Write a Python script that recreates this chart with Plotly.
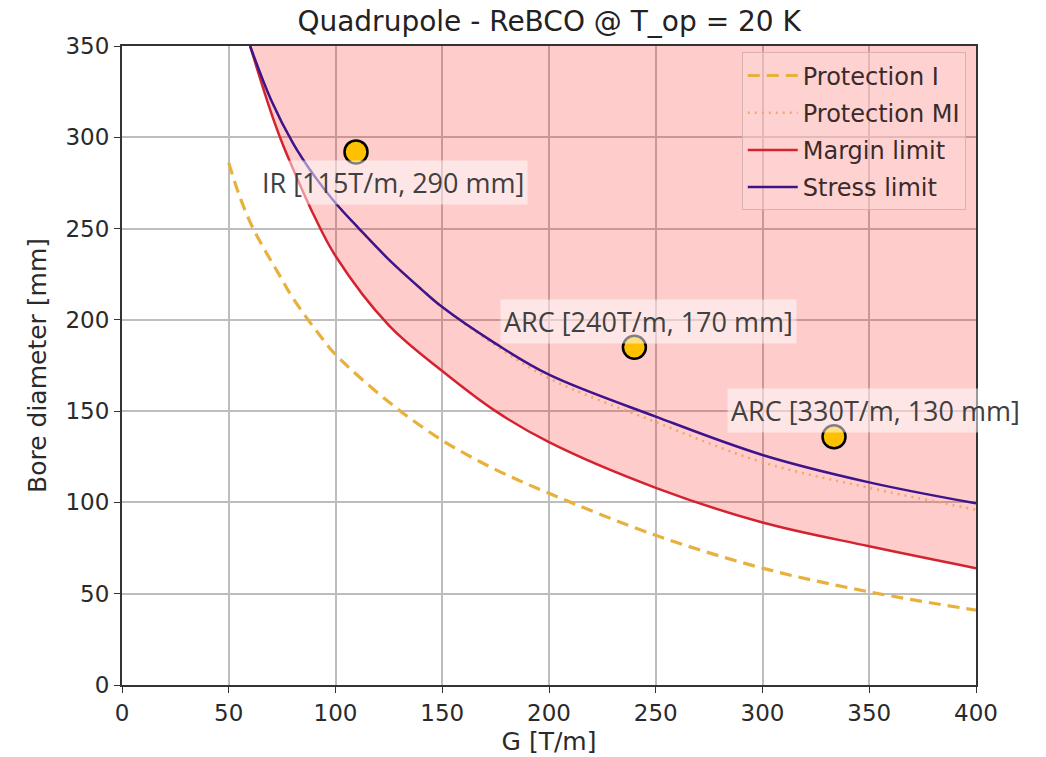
import plotly.graph_objects as go

# ---- data ----
g_prot_i = [50, 55, 61, 67, 73, 80, 93, 100, 125, 150, 175, 200, 250, 300, 350, 400]
d_prot_i = [286, 268, 251, 238, 226, 212, 191, 181, 155, 134, 118, 105, 82, 64, 51, 41]

g_prot_mi = [60, 70, 80, 90, 100, 111, 125, 140, 150, 175, 200, 250, 300, 350, 400]
d_prot_mi = [350, 320, 297, 279, 264, 250, 233, 217, 207, 186, 168, 144, 122, 108, 96]

g_margin = [60, 65, 70, 75, 80, 90, 100, 125, 150, 175, 200, 250, 300, 350, 400]
d_margin = [350, 331, 313, 297, 283, 257, 235, 197, 172, 150, 133, 108, 89, 76, 64]

g_stress = [60, 70, 80, 90, 100, 111, 125, 140, 150, 175, 200, 250, 300, 350, 400]
d_stress = [350, 320, 297, 279, 264, 250, 233, 217, 207, 187, 170, 147, 126, 111, 99.5]

pt_g = [109.6, 240, 333.5]
pt_d = [292, 185, 136]
pt_labels = ["IR [115T/m, 290 mm]", "ARC [240T/m, 170 mm]", "ARC [330T/m, 130 mm]"]
lbl_g = [127, 246.4, 353]
lbl_d = [275, 199, 150.6]

y_top = 350

fig = go.Figure()

# fill region above the margin limit
fig.add_trace(go.Scatter(x=g_margin, y=[y_top] * len(g_margin), mode="lines",
                         line=dict(width=0, color="rgba(0,0,0,0)"),
                         showlegend=False, hoverinfo="skip"))
fig.add_trace(go.Scatter(x=g_margin, y=d_margin, mode="lines", fill="tonexty",
                         fillcolor="rgba(255,0,0,0.2)", line=dict(width=0, shape="spline"),
                         showlegend=False, hoverinfo="skip"))

fig.add_trace(go.Scatter(x=g_prot_i, y=d_prot_i, mode="lines", name="Protection I",
                         legendgroup="a",
                         line=dict(color="#e8b03c", width=3.2, dash="12px,7px", shape="spline")))
fig.add_trace(go.Scatter(x=g_prot_mi, y=d_prot_mi, mode="lines", name="Protection MI",
                         legendgroup="b",
                         line=dict(color="#f0a868", width=2.5, dash="2px,5px", shape="spline")))
fig.add_trace(go.Scatter(x=g_margin, y=d_margin, mode="lines", name="Margin limit",
                         legendgroup="c",
                         line=dict(color="#d42330", width=2.5, shape="spline")))
fig.add_trace(go.Scatter(x=g_stress, y=d_stress, mode="lines", name="Stress limit",
                         legendgroup="d",
                         line=dict(color="#3d148c", width=2.5, shape="spline")))

fig.add_trace(go.Scatter(x=pt_g, y=pt_d, mode="markers", showlegend=False,
                         marker=dict(size=23, color="#ffc000",
                                     line=dict(color="black", width=2.5)),
                         cliponaxis=False))

for gx, dy, t in zip(lbl_g, lbl_d, pt_labels):
    fig.add_annotation(x=gx, y=dy, text=t, showarrow=False,
                       font=dict(family="Open Sans", size=27, color="#404040"),
                       bgcolor="rgba(255,255,255,0.5)", borderpad=3)

axis_common = dict(showgrid=True, gridcolor="#bdbdbd", gridwidth=1.5,
                   showline=True, linecolor="#333333", linewidth=2, mirror=True,
                   ticks="outside", ticklen=6, tickcolor="#333333", zeroline=False,
                   tickfont=dict(family="DejaVu Sans", size=23, color="#2a2a2a"),
                   automargin=False)

fig.update_xaxes(range=[0, 400], dtick=50, title=dict(text="G [T/m]",
                 font=dict(family="DejaVu Sans", size=25, color="#2a2a2a"), standoff=8),
                 **axis_common)
fig.update_yaxes(range=[0, 350], dtick=50, title=dict(text="Bore diameter [mm]",
                 font=dict(family="DejaVu Sans", size=25, color="#2a2a2a"), standoff=12),
                 **axis_common)

fig.update_layout(
    width=1046, height=757,
    margin=dict(l=122, r=70, t=46, b=72),
    paper_bgcolor="white", plot_bgcolor="white",
    title=dict(text="Quadrupole - ReBCO @ T_op = 20 K", x=0.525, xanchor="center",
               y=0.972, yanchor="middle",
               font=dict(family="DejaVu Sans", size=28, color="#222222")),
    legend=dict(x=0.988, y=0.99, xanchor="right", yanchor="top",
                traceorder="grouped",
                bgcolor="rgba(255,215,215,0.5)", bordercolor="#d8b0b0", borderwidth=1,
                font=dict(family="DejaVu Sans", size=24, color="#3a2a2a"),
                itemwidth=50, tracegroupgap=3),
    showlegend=True,
)

fig.write_html("out.html")
